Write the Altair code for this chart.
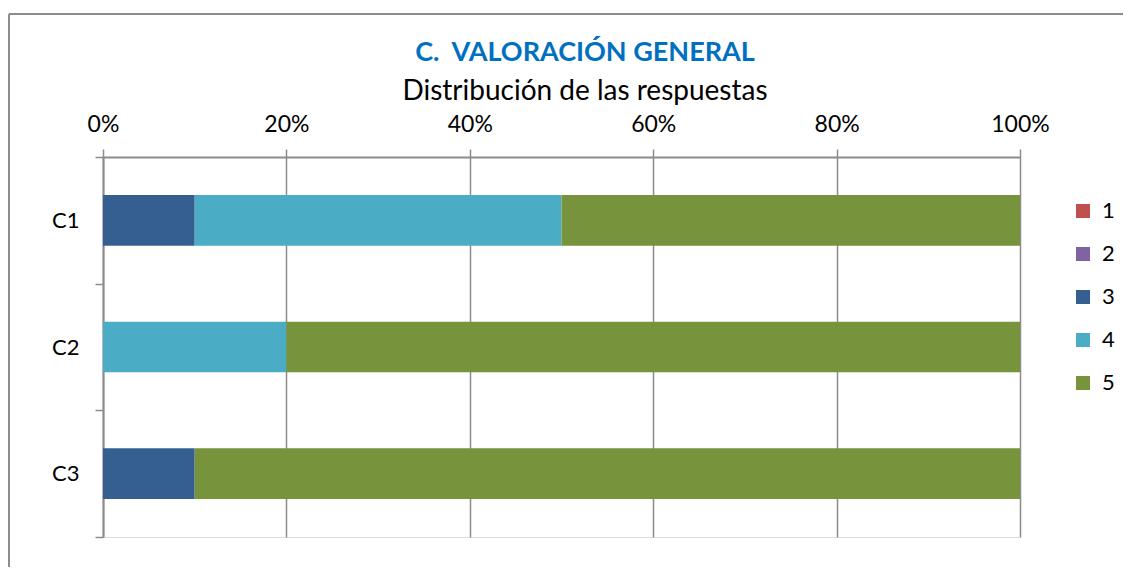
import altair as alt
import pandas as pd

categories = ["C1", "C2", "C3"]
answers = ["1", "2", "3", "4", "5"]
values_c1 = [0, 0, 10, 40, 50]
values_c2 = [0, 0, 0, 20, 80]
values_c3 = [0, 0, 10, 0, 90]
colors = ["#C0504D", "#8064A2", "#365F91", "#4BACC6", "#77933C"]
x_ticks = [0, 0.2, 0.4, 0.6, 0.8, 1.0]
title_text = "C.\u00a0 VALORACIÓN GENERAL"
subtitle_text = "Distribución de las respuestas"

rows = []
for cat, vals in zip(categories, [values_c1, values_c2, values_c3]):
    for i, (a, v) in enumerate(zip(answers, vals)):
        rows.append({"cat": cat, "resp": a, "val": v, "ord": i})
df = pd.DataFrame(rows)

FONT = "Lato"
GRAY = "#8c8c8c"

bars = alt.Chart(df).mark_bar(height=alt.RelativeBandSize(0.4)).encode(
    y=alt.Y("cat:N", sort=categories, title=None,
            scale=alt.Scale(paddingInner=0, paddingOuter=0),
            axis=alt.Axis(tickBand="extent", tickSize=8, tickColor=GRAY, tickWidth=1.5,
                          domainColor=GRAY, domainWidth=2, labelFontSize=22,
                          labelFont=FONT, labelColor="black", labelPadding=16, grid=False)),
    x=alt.X("val:Q", stack="normalize", title=None,
            scale=alt.Scale(domain=[0, 1], nice=False),
            axis=alt.Axis(orient="top", values=x_ticks, format=".0%", grid=True,
                          gridColor=GRAY, gridWidth=1.5, tickSize=8, tickColor=GRAY,
                          tickWidth=1.5, domainColor=GRAY, domainWidth=2,
                          labelFontSize=23, labelFont=FONT, labelColor="black",
                          labelPadding=13, labelFlush=False)),
    color=alt.Color("resp:N", scale=alt.Scale(domain=answers, range=colors),
                    legend=alt.Legend(title=None, orient="none", legendX=969, legendY=43,
                                      symbolType="square", symbolSize=196,
                                      symbolStrokeWidth=0, labelFontSize=22,
                                      labelFont=FONT, labelColor="black",
                                      rowPadding=21, labelOffset=8, padding=0)),
    order=alt.Order("ord:Q"),
)

one = alt.Data(values=[{"k": 1}])
frame_top = alt.Chart(one).mark_rule(color=GRAY, strokeWidth=2).encode(
    x=alt.value(-94), x2=alt.value(1200), y=alt.value(-143))
frame_left = alt.Chart(one).mark_rule(color=GRAY, strokeWidth=2).encode(
    x=alt.value(-94), y=alt.value(-143), y2=alt.value(600))

title_mark = alt.Chart(one).mark_text(
    text=title_text, font=FONT, fontSize=27, fontWeight="bold", color="#0070C0",
    align="center", baseline="alphabetic").encode(x=alt.value(482), y=alt.value(-96))
subtitle_mark = alt.Chart(one).mark_text(
    text=subtitle_text, font=FONT, fontSize=28, color="black",
    align="center", baseline="alphabetic").encode(x=alt.value(482), y=alt.value(-57))

chart = alt.layer(bars, frame_top, frame_left, title_mark, subtitle_mark).properties(
    width=917, height=380,
    autosize=alt.AutoSizeParams(type="none"),
    padding={"left": 95, "top": 149, "right": 103, "bottom": 30},
).configure_view(stroke=GRAY, strokeWidth=2).configure(background="white")

chart.save("out.html", embed_options={"renderer": "svg", "actions": False})
